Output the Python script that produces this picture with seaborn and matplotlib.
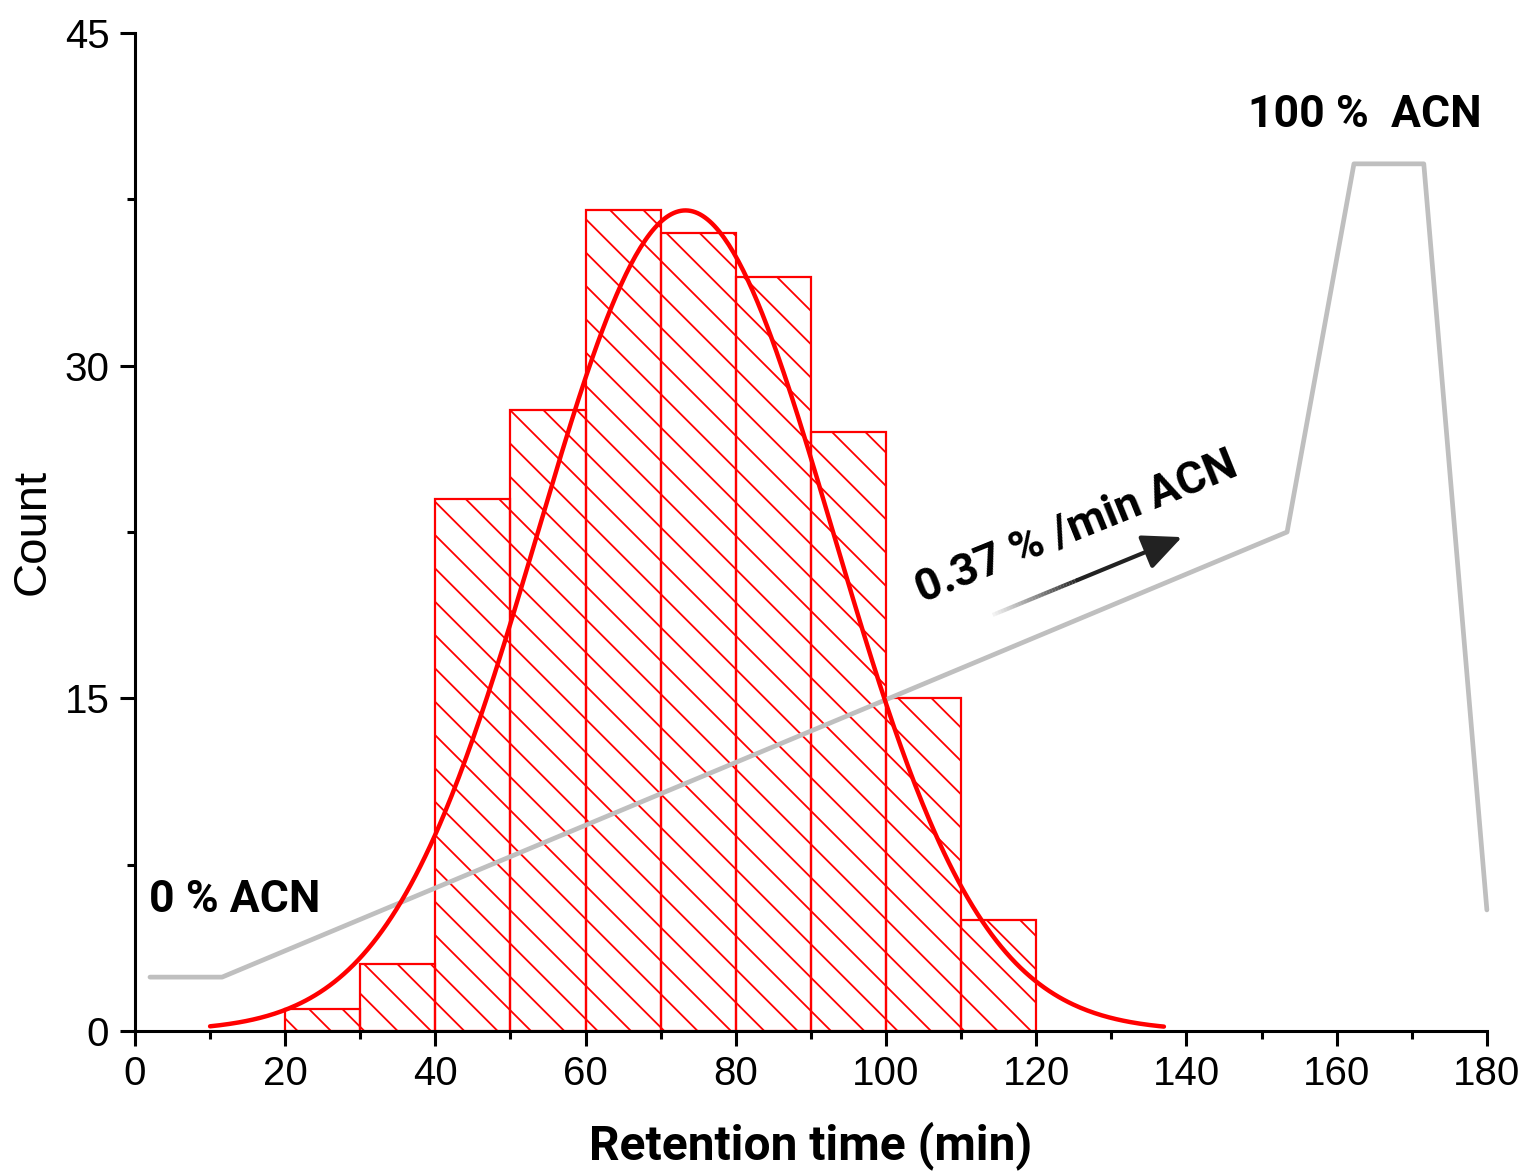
import numpy as np
import pandas as pd
import matplotlib
matplotlib.use("Agg")
import matplotlib.pyplot as plt
from matplotlib.collections import LineCollection
import seaborn as sns

# ---- data ----
bin_edges = [20, 30, 40, 50, 60, 70, 80, 90, 100, 110, 120]
counts = [1, 3, 24, 28, 37, 36, 34, 27, 15, 5]
fit_mean = 73.3
fit_sigma = 19.7
fit_amp = 37.0
fit_range = [10, 137]
gradient_x = [2.0, 11.6, 153.4, 162.3, 171.6, 180.0]
gradient_y = [2.43, 2.43, 22.5, 39.1, 39.1, 5.46]
x_ticks = [0, 20, 40, 60, 80, 100, 120, 140, 160, 180]
y_ticks = [0, 15, 30, 45]

sns.set_theme(style="ticks")
plt.rcParams['font.family'] = ['Liberation Sans', 'DejaVu Sans']
plt.rcParams['hatch.color'] = 'red'
plt.rcParams['hatch.linewidth'] = 1.3

fig = plt.figure(figsize=(15.25, 11.74), dpi=100)
ax = fig.add_axes([0.0885, 0.1218, 0.8865, 0.8501])

centers = [(a + b) / 2 for a, b in zip(bin_edges[:-1], bin_edges[1:])]
df = pd.DataFrame({"t": centers, "n": counts})
sns.histplot(data=df, x="t", weights="n", bins=bin_edges, ax=ax,
             element="bars", color="red", linewidth=1.6)
for p in ax.patches:
    p.set_facecolor("none")
    p.set_edgecolor("red")
    p.set_hatch("\\")
    p.set_linewidth(1.6)

# gradient profile (gray)
gdf = pd.DataFrame({"x": gradient_x, "y": gradient_y})
sns.lineplot(data=gdf, x="x", y="y", ax=ax, color="#bfbfbf", lw=3.4,
             sort=False, clip_on=False, zorder=3)

# normal fit curve
xs = np.linspace(fit_range[0], fit_range[1], 400)
ys = fit_amp * np.exp(-(xs - fit_mean) ** 2 / (2 * fit_sigma ** 2))
cdf = pd.DataFrame({"x": xs, "y": ys})
sns.lineplot(data=cdf, x="x", y="y", ax=ax, color="red", lw=3.2,
             solid_capstyle="round", zorder=4)

# arrow with fading tail
tail = np.array([114.2, 18.76])
head = np.array([139.4, 22.27])
mid = tail + 0.45 * (head - tail)
n = 30
pts = np.array([tail + (mid - tail) * i / n for i in range(n + 1)])
segs = [[pts[i], pts[i + 1]] for i in range(n)]
cols = [(0.13, 0.13, 0.13, 0.05 + 0.95 * i / n) for i in range(n)]
ax.add_collection(LineCollection(segs, colors=cols, linewidths=3.0, capstyle="butt", zorder=5))
ax.annotate("", xy=head, xytext=mid,
            arrowprops=dict(arrowstyle="-|>,head_length=1.2,head_width=0.55",
                            color="#222222", lw=3.0, mutation_scale=20,
                            shrinkA=0, shrinkB=0), zorder=5)

ann_font = dict(family=["Roboto", "DejaVu Sans"], weight="bold", fontsize=32, color="black")
ax.text(125.4, 22.7, "0.37 % /min ACN", rotation=22, rotation_mode="anchor",
        ha="center", va="center", **{**ann_font, "fontsize": 32.5})
ax.text(163.8, 41.3, "100 %  ACN", ha="center", va="center", **ann_font)
ax.text(1.9, 5.9, "0 % ACN", ha="left", va="center", **ann_font)

ax.set_xlim(0, 180)
ax.set_ylim(0, 45)
ax.set_xticks(x_ticks)
ax.set_yticks(y_ticks)
ax.set_xticks([10, 30, 50, 70, 90, 110, 130, 150, 170], minor=True)
ax.set_yticks([7.5, 22.5, 37.5], minor=True)
ax.tick_params(axis="both", which="major", labelsize=29, length=10.5, width=2.2,
               color="black", labelcolor="black", direction="out")
ax.tick_params(axis="x", which="major", pad=7)
ax.tick_params(axis="y", which="major", pad=8)
ax.tick_params(axis="both", which="minor", length=5.5, width=2.2, color="black")
for s in ["top", "right"]:
    ax.spines[s].set_visible(False)
for s in ["left", "bottom"]:
    ax.spines[s].set_linewidth(2.2)
    ax.spines[s].set_color("black")

ax.set_xlabel("Retention time (min)", family=["Roboto", "DejaVu Sans"], weight="bold",
              fontsize=34.5, labelpad=20, color="black")
ax.set_ylabel("Count", fontsize=34, labelpad=7, color="black")

fig.savefig("out.png", dpi=100, facecolor="white")
